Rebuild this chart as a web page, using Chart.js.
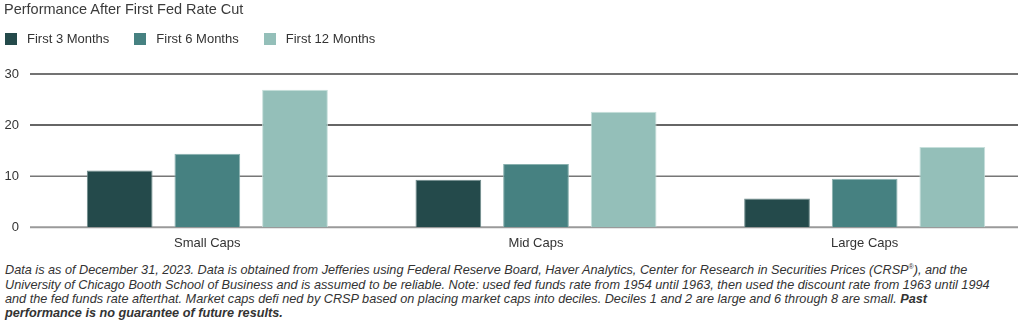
<!DOCTYPE html>
<html>
<head>
<meta charset="utf-8">
<script src="https://cdn.jsdelivr.net/npm/chart.js@4.4.1/dist/chart.umd.min.js"></script>
<style>
  html, body { margin: 0; padding: 0; background: #fff; width: 1024px; height: 325px; overflow: hidden; }
  #wrap { position: relative; width: 1024px; height: 325px; overflow: hidden; }
  #chartBox { position: absolute; left: 0; top: 0; width: 1030px; height: 259px; }
  #title { position: absolute; left: 4px; top: 1px; font: 14.5px "Liberation Sans", Arial, sans-serif; color: #3b3b3b; white-space: nowrap; z-index: 2; }
  #legend { position: absolute; left: 5px; top: 31px; display: flex; align-items: center; font: 13px "Liberation Sans", Arial, sans-serif; color: #333; white-space: nowrap; z-index: 2; }
  .item { display: flex; align-items: center; margin-right: 25px; }
  .sw { width: 12px; height: 12px; margin-right: 10px; }
  #note { position: absolute; left: 5px; top: 260px; font: italic 12.7px "Liberation Sans", Arial, sans-serif; color: #333; line-height: 14.3px; white-space: nowrap; z-index: 2; }
  #note b { font-weight: bold; }
</style>
</head>
<body>
<div id="wrap">
  <div id="chartBox"><canvas id="c" width="1030" height="259"></canvas></div>
  <div id="title"></div>
  <div id="legend"></div>
  <div id="note">Data is as of December 31, 2023. Data is obtained from Jefferies using Federal Reserve Board, Haver Analytics, Center for Research in Securities Prices (CRSP<sup style="font-size:7px">®</sup>), and the<br>University of Chicago Booth School of Business and is assumed to be reliable. Note: used fed funds rate from 1954 until 1963, then used the discount rate from 1963 until 1994<br>and the fed funds rate afterthat. Market caps defi ned by CRSP based on placing market caps into deciles. Deciles 1 and 2 are large and 6 through 8 are small. <b>Past<br>performance is no guarantee of future results.</b></div>
</div>
<script>
const titleText = 'Performance After First Fed Rate Cut';
const categories = ['Small Caps', 'Mid Caps', 'Large Caps'];
const seriesNames = ['First 3 Months', 'First 6 Months', 'First 12 Months'];
const first3 = [11.1, 9.3, 5.6];
const first6 = [14.4, 12.4, 9.5];
const first12 = [26.9, 22.6, 15.7];
const yTicks = [0, 10, 20, 30];

const colors = ['#244a4b', '#468181', '#94bfb9'];
const borders = ['#6f8c8c', '#88b0ae', '#c6dfdb'];

document.getElementById('title').textContent = titleText;
const lg = document.getElementById('legend');
seriesNames.forEach((n, i) => {
  const it = document.createElement('div'); it.className = 'item';
  const sw = document.createElement('span'); sw.className = 'sw'; sw.style.background = colors[i];
  const tx = document.createElement('span'); tx.textContent = n;
  it.appendChild(sw); it.appendChild(tx); lg.appendChild(it);
});

const gridColors = { 0: '#9a9a9a', 10: '#777777', 20: '#333333', 30: '#444444' };
const gridWidths = { 0: 2, 10: 1.5, 20: 1.5, 30: 1.3 };

const gridPlugin = {
  id: 'customGrid',
  beforeDatasetsDraw(chart) {
    const ctx = chart.ctx, y = chart.scales.y;
    ctx.save();
    y.ticks.forEach(t => {
      const py = y.getPixelForValue(t.value);
      ctx.beginPath();
      ctx.strokeStyle = gridColors[t.value] || '#777';
      ctx.lineWidth = gridWidths[t.value] || 1;
      ctx.moveTo(30, py);
      ctx.lineTo(1018, py);
      ctx.stroke();
    });
    ctx.restore();
  }
};

const datasets = [first3, first6, first12].map((d, i) => ({
  label: seriesNames[i],
  data: d,
  backgroundColor: colors[i],
  borderColor: borders[i],
  borderWidth: 1,
  categoryPercentage: 0.8,
  barPercentage: 0.75
}));

new Chart(document.getElementById('c'), {
  type: 'bar',
  data: { labels: categories, datasets },
  options: {
    responsive: false,
    animation: false,
    layout: { padding: { top: 74, left: 0, right: 1, bottom: 0 } },
    plugins: { legend: { display: false }, title: { display: false }, tooltip: { enabled: false } },
    scales: {
      x: {
        grid: { display: false, drawTicks: false },
        border: { display: false },
        ticks: { color: '#333', font: { family: 'Liberation Sans', size: 13 }, padding: 8 }
      },
      y: {
        min: 0, max: 30,
        afterBuildTicks(s) { s.ticks = yTicks.map(v => ({ value: v })); },
        grid: { display: false, drawTicks: false },
        border: { display: false },
        ticks: { color: '#333', font: { family: 'Liberation Sans', size: 13 }, padding: 24 },
        afterFit(s) { s.width = 43; }
      }
    }
  },
  plugins: [gridPlugin]
});
</script>
</body>
</html>
